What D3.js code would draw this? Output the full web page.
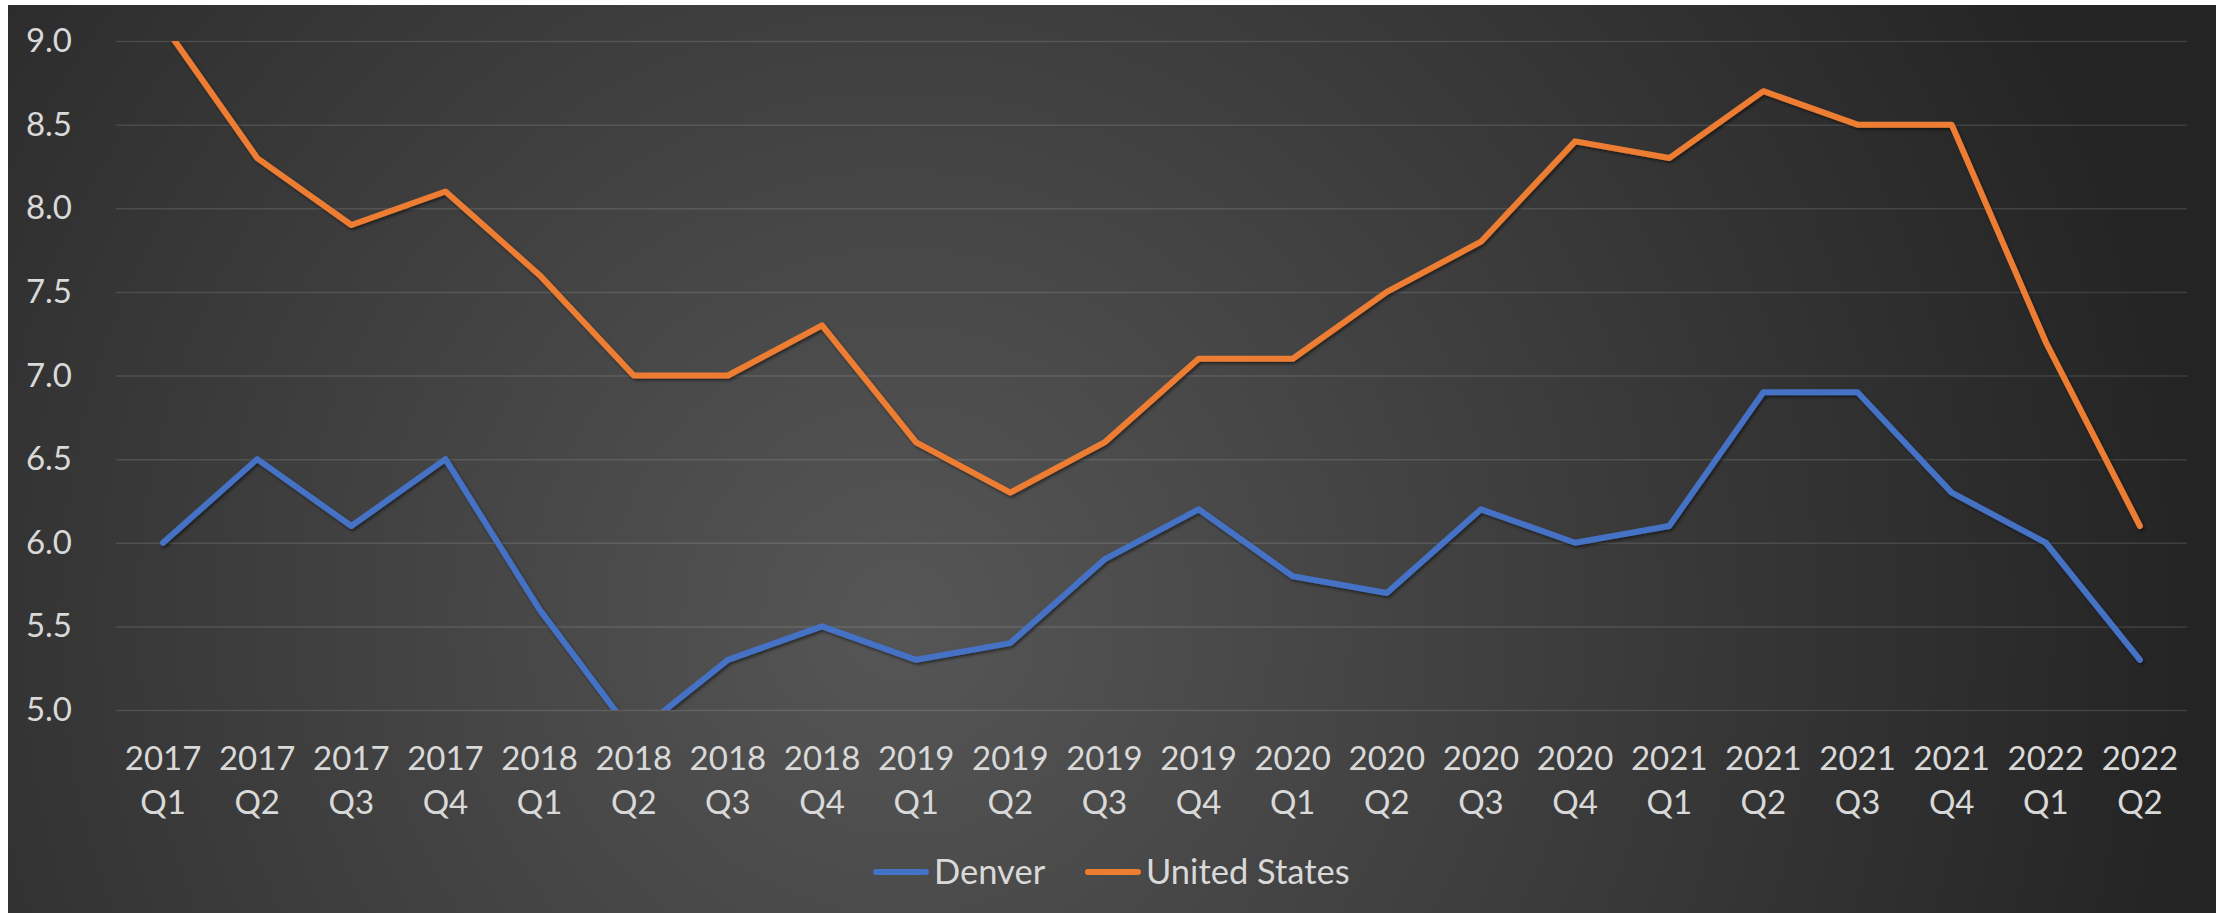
<!DOCTYPE html>
<html lang="en">
<head>
  <meta charset="UTF-8">
  <title>Denver vs United States</title>
  <script src="https://d3js.org/d3.v7.min.js"></script>
  <style>
    body { margin: 0; background: #fff; }
    svg { display: block; }
    text { font-family: Lato, "Open Sans", sans-serif; fill: #d9d9d9; }
  </style>
</head>
<body>
  <script>
    const quarters = ["2017 Q1","2017 Q2","2017 Q3","2017 Q4","2018 Q1","2018 Q2","2018 Q3","2018 Q4",
                      "2019 Q1","2019 Q2","2019 Q3","2019 Q4","2020 Q1","2020 Q2","2020 Q3","2020 Q4",
                      "2021 Q1","2021 Q2","2021 Q3","2021 Q4","2022 Q1","2022 Q2"];
    const denver = [6.0, 6.5, 6.1, 6.5, 5.6, 4.85, 5.3, 5.5, 5.3, 5.4, 5.9, 6.2,
                    5.8, 5.7, 6.2, 6.0, 6.1, 6.9, 6.9, 6.3, 6.0, 5.3];
    const unitedStates = [9.1, 8.3, 7.9, 8.1, 7.6, 7.0, 7.0, 7.3, 6.6, 6.3, 6.6, 7.1,
                          7.1, 7.5, 7.8, 8.4, 8.3, 8.7, 8.5, 8.5, 7.2, 6.1];
    const yTicks = [5.0, 5.5, 6.0, 6.5, 7.0, 7.5, 8.0, 8.5, 9.0];
    const seriesNames = ["Denver", "United States"];
    const seriesColors = ["#4472c4", "#ed7d31"];

    const width = 2228, height = 913;
    const plot = { left: 116, right: 2187, top: 41, bottom: 710 };

    const svg = d3.select("body").append("svg")
      .attr("width", width)
      .attr("height", height);

    const defs = svg.append("defs");
    const grad = defs.append("radialGradient")
      .attr("id", "bg")
      .attr("gradientUnits", "userSpaceOnUse")
      .attr("cx", 900).attr("cy", 620).attr("r", 1300);
    grad.append("stop").attr("offset", "0%").attr("stop-color", "#565656");
    grad.append("stop").attr("offset", "100%").attr("stop-color", "#242424");

    const shadow = defs.append("filter").attr("id", "shadow")
      .attr("x", "-5%").attr("y", "-5%").attr("width", "110%").attr("height", "110%");
    shadow.append("feDropShadow")
      .attr("dx", 1.5).attr("dy", 2).attr("stdDeviation", 1.5)
      .attr("flood-color", "#000").attr("flood-opacity", 0.5);

    defs.append("clipPath").attr("id", "plotclip")
      .append("rect")
      .attr("x", plot.left).attr("y", plot.top)
      .attr("width", plot.right - plot.left)
      .attr("height", plot.bottom - plot.top);

    svg.append("rect")
      .attr("x", 8).attr("y", 5)
      .attr("width", 2208).attr("height", height - 5)
      .attr("fill", "url(#bg)");

    const x = d3.scaleBand()
      .domain(quarters)
      .range([plot.left, plot.right]);

    const y = d3.scaleLinear()
      .domain([5, 9])
      .range([plot.bottom, plot.top]);

    // gridlines + y labels
    const yAxis = svg.append("g")
      .attr("transform", `translate(${plot.left},0)`)
      .call(d3.axisLeft(y).tickValues(yTicks).tickFormat(d3.format(".1f"))
        .tickSize(-(plot.right - plot.left)).tickPadding(44));
    yAxis.select(".domain").remove();
    yAxis.selectAll(".tick line")
      .attr("stroke", "#ffffff").attr("stroke-opacity", 0.12).attr("stroke-width", 1.5);
    yAxis.selectAll(".tick text")
      .attr("fill", "#d9d9d9").attr("font-size", 33)
      .attr("font-family", "Lato, 'Open Sans', sans-serif");

    // x labels on two lines
    const xAxis = svg.append("g")
      .attr("transform", `translate(0,${plot.bottom})`)
      .call(d3.axisBottom(x).tickSize(0).tickFormat(""));
    xAxis.select(".domain").remove();
    xAxis.selectAll(".tick").each(function(d) {
      const parts = d.split(" ");
      const t = d3.select(this).append("text")
        .attr("text-anchor", "middle")
        .attr("font-size", 33);
      t.append("tspan").attr("x", 0).attr("y", 60).text(parts[0]);
      t.append("tspan").attr("x", 0).attr("y", 104).text(parts[1]);
    });

    const line = d3.line()
      .x((d, i) => x(quarters[i]) + x.bandwidth() / 2)
      .y(d => y(d));

    const lines = svg.append("g").attr("clip-path", "url(#plotclip)");
    [denver, unitedStates].forEach((vals, k) => {
      lines.append("path")
        .datum(vals)
        .attr("d", line)
        .attr("fill", "none")
        .attr("stroke", seriesColors[k])
        .attr("stroke-width", 6)
        .attr("stroke-linejoin", "round")
        .attr("stroke-linecap", "round")
        .attr("filter", "url(#shadow)");
    });

    // legend
    const legend = svg.append("g").attr("transform", "translate(0,872)");
    const legendX = [876, 1088];
    seriesNames.forEach((name, k) => {
      const g = legend.append("g").attr("transform", `translate(${legendX[k]},0)`);
      g.append("line")
        .attr("x1", 0).attr("x2", 50).attr("y1", 0).attr("y2", 0)
        .attr("stroke", seriesColors[k]).attr("stroke-width", 6)
        .attr("stroke-linecap", "round");
      g.append("text")
        .attr("x", 58).attr("y", 0).attr("dy", "0.36em")
        .attr("font-size", 34.5)
        .text(name);
    });
  </script>
</body>
</html>
